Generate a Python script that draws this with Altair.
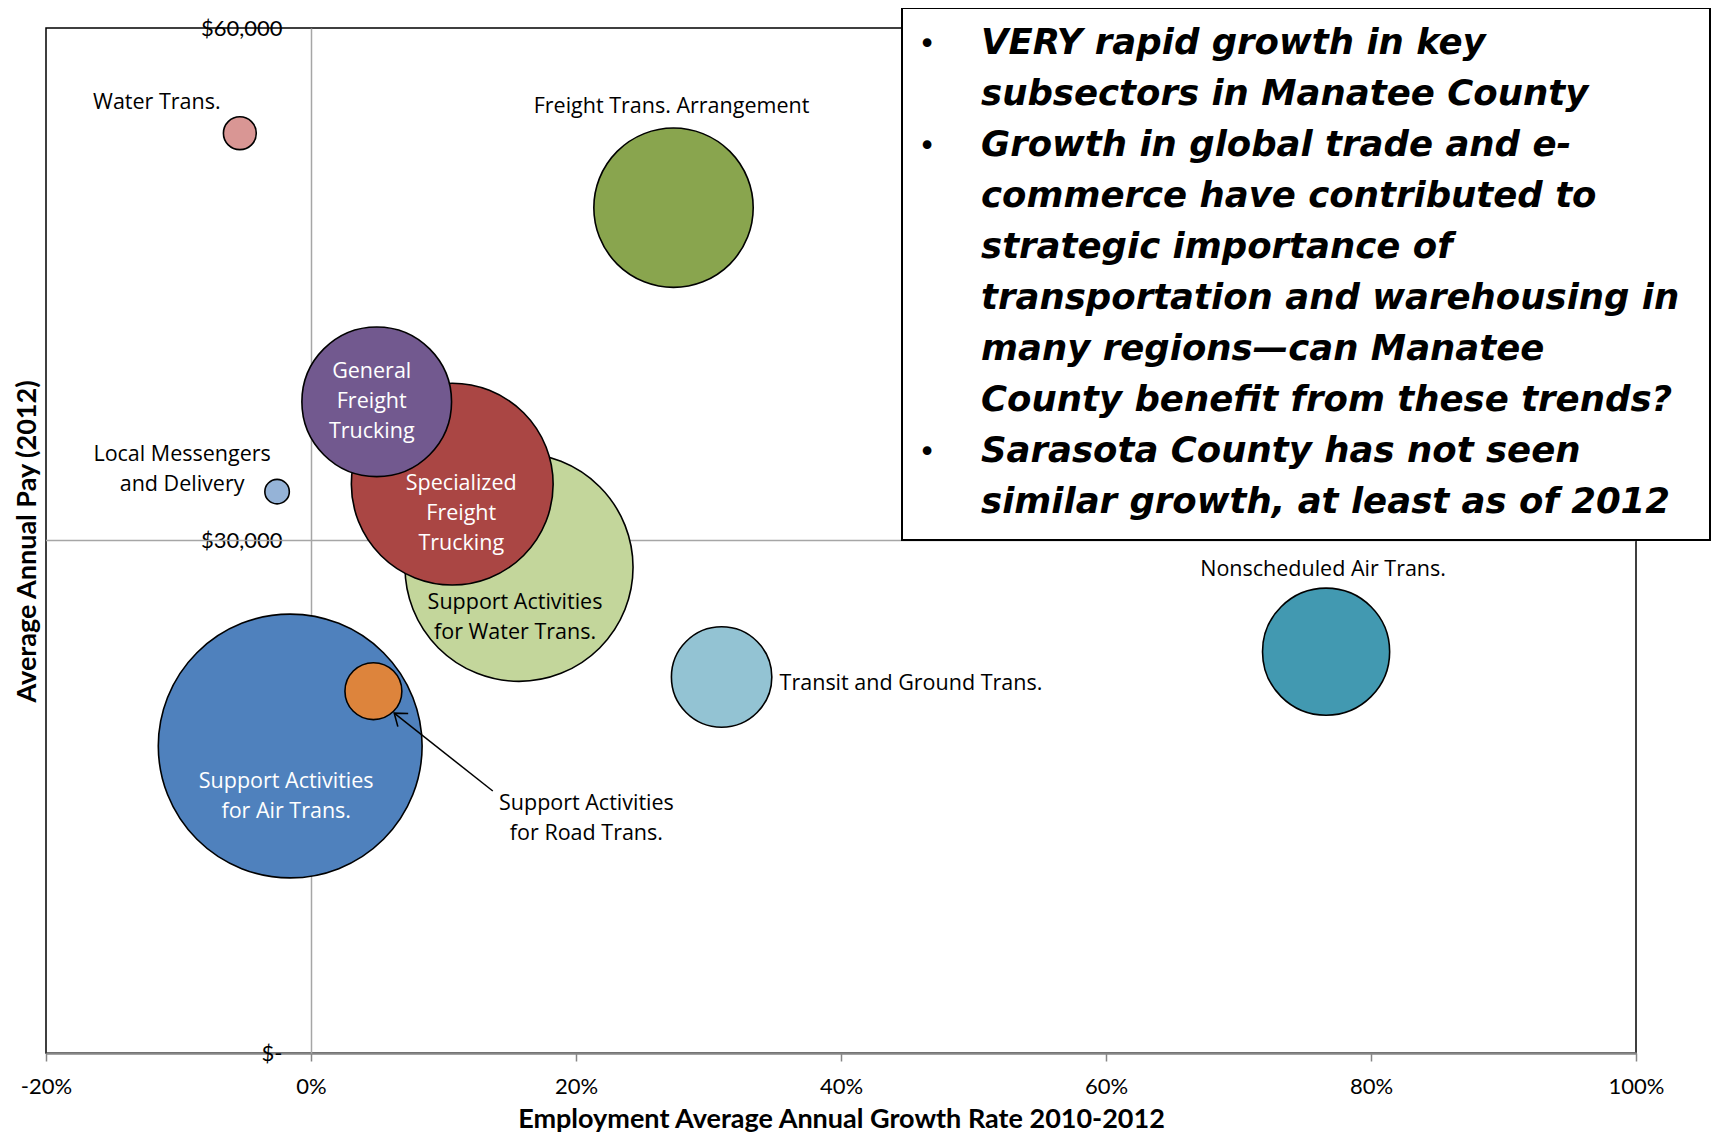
import altair as alt
import pandas as pd

# ---- data ----
industries = [
    "Support Activities for Air Trans.",
    "Support Activities for Water Trans.",
    "Specialized Freight Trucking",
    "Freight Trans. Arrangement",
    "General Freight Trucking",
    "Nonscheduled Air Trans.",
    "Transit and Ground Trans.",
    "Support Activities for Road Trans.",
    "Water Trans.",
    "Local Messengers and Delivery",
]
growth = [-0.0157, 0.157, 0.1066, 0.2736, 0.0496, 0.7661, 0.3099, 0.0471, -0.0537, -0.0256]
pay = [17970, 28430, 33300, 49480, 38120, 23490, 22010, 21180, 53840, 32860]
employment = [1740, 1300, 1018, 635, 560, 404, 252, 81, 27, 15]
colors = ["#4f81bd", "#c3d69b", "#aa4644", "#89a54e", "#72598f",
          "#4299b1", "#93c3d3", "#dd843c", "#d99694", "#95b3d7"]

label_texts = {
    "Support Activities for Air Trans.": "Support Activities\nfor Air Trans.",
    "Support Activities for Water Trans.": "Support Activities\nfor Water Trans.",
    "Specialized Freight Trucking": "Specialized\nFreight\nTrucking",
    "Freight Trans. Arrangement": "Freight Trans. Arrangement",
    "General Freight Trucking": "General\nFreight\nTrucking",
    "Nonscheduled Air Trans.": "Nonscheduled Air Trans.",
    "Transit and Ground Trans.": "Transit and Ground Trans.",
    "Support Activities for Road Trans.": "Support Activities\nfor Road Trans.",
    "Water Trans.": "Water Trans.",
    "Local Messengers and Delivery": "Local Messengers\nand Delivery",
}

x_ticks = [-0.2, 0.0, 0.2, 0.4, 0.6, 0.8, 1.0]
y_ticks = [0, 30000, 60000]

# annotation arrow for Support Activities for Road Trans. (data units)
arrow_from = (0.1372, 15337)
arrow_to = (0.0628, 19893)

note_paragraphs = [
    ["VERY rapid growth in key", "subsectors in Manatee County"],
    ["Growth in global trade and e-", "commerce have contributed to",
     "strategic importance of", "transportation and warehousing in",
     "many regions\u2014can Manatee", "County benefit from these trends?"],
    ["Sarasota County has not seen", "similar growth, at least as of 2012"],
]

# ---- layout / style ----
label_layout = {
    # name: (color, align, dx, dy of block centre)
    "Support Activities for Air Trans.": ("white", "center", -4, 51),
    "Support Activities for Water Trans.": ("black", "center", -4, 51),
    "Specialized Freight Trucking": ("white", "center", 9, 30),
    "Freight Trans. Arrangement": ("black", "center", -2, -101),
    "General Freight Trucking": ("white", "center", -5, 0),
    "Nonscheduled Air Trans.": ("black", "center", -3, -82),
    "Transit and Ground Trans.": ("black", "left", 58, 7),
    "Support Activities for Road Trans.": ("black", "center", 213, 128),
    "Water Trans.": ("black", "center", -83, -30),
    "Local Messengers and Delivery": ("black", "center", -95, -22),
}
LABEL_LH = 30
NOTE_LH = 51

W, H = 1590, 1025
FONT = "Lato"
LABEL_FONT = "Open Sans"

df = pd.DataFrame({
    "industry": industries,
    "growth": growth,
    "pay": pay,
    "employment": employment,
    "label": [label_texts[n] for n in industries],
})

x_enc = alt.X(
    "growth:Q",
    scale=alt.Scale(domain=[x_ticks[0], x_ticks[-1]], nice=False, zero=False),
    axis=alt.Axis(
        values=x_ticks,
        labelExpr="(datum.value < 0 ? '-' : '') + format(abs(datum.value), '.0%')",
        title="Employment Average Annual Growth Rate 2010-2012",
        titleFont=FONT, titleFontSize=27, titleFontWeight="bold", titleColor="black",
        titleY=66, titleBaseline="middle",
        labelFont=FONT, labelFontSize=22, labelColor="black", labelPadding=15,
        labelFlush=False, labelOverlap=False,
        tickSize=8, tickColor="#868686", tickWidth=1.5,
        domainColor="#868686", domainWidth=2.5, grid=False,
    ),
)
y_enc = alt.Y(
    "pay:Q",
    scale=alt.Scale(domain=[y_ticks[0], y_ticks[-1]], nice=False),
    axis=alt.Axis(
        values=y_ticks,
        labelExpr="datum.value == 0 ? '$-' : '$' + format(datum.value, ',')",
        offset=-265, ticks=False, tickSize=0, labelPadding=29,
        labelFlush=False, labelOverlap=False,
        labelFont=FONT, labelFontSize=22, labelColor="black",
        domainColor="#a6a6a6", domainWidth=1.5, grid=False,
        title="Average Annual Pay (2012)",
        titleFont=FONT, titleFontSize=27, titleFontWeight="bold", titleColor="black",
        titleX=-284, titleY=513, titleAngle=270, titleAlign="center", titleBaseline="middle",
    ),
)

base = alt.Chart(df)

hline = alt.Chart(pd.DataFrame({"pay": [30000]})).mark_rule(
    color="#a6a6a6", strokeWidth=1.5
).encode(y=y_enc)

bubbles = base.mark_circle(stroke="black", strokeWidth=1.6, opacity=1).encode(
    x=x_enc,
    y=y_enc,
    color=alt.Color("industry:N", scale=alt.Scale(domain=industries, range=colors), legend=None),
    size=alt.Size("employment:Q",
                  scale=alt.Scale(domain=[0, max(employment)], range=[0, 40 * max(employment)]),
                  legend=None),
)

arrow_df = pd.DataFrame({
    "growth": [arrow_from[0]], "pay": [arrow_from[1]],
    "growth2": [arrow_to[0]], "pay2": [arrow_to[1]],
})
arrow_line = alt.Chart(arrow_df).mark_rule(color="black", strokeWidth=1.5).encode(
    x=x_enc, y=y_enc, x2="growth2:Q", y2="pay2:Q"
)
arrow_head = alt.Chart(pd.DataFrame({"growth": [arrow_to[0]], "pay": [arrow_to[1]]})).mark_point(
    shape="M -1 -0.75 L 0 0 L -1 0.75", filled=False, stroke="black", strokeWidth=1.6,
    size=500, angle=218, opacity=1,
).encode(x=x_enc, y=y_enc)

label_layers = []
for name in industries:
    color, align, dx, dy = label_layout[name]
    n_lines = label_texts[name].count("\n") + 1
    label_layers.append(
        base.transform_filter(alt.datum.industry == name).mark_text(
            font=LABEL_FONT, fontSize=21.5, color=color, align=align, baseline="middle",
            dx=dx, dy=dy - (n_lines - 1) * LABEL_LH / 2, lineBreak="\n", lineHeight=LABEL_LH,
        ).encode(x=x_enc, y=y_enc, text="label:N")
    )

# text box
one = pd.DataFrame({"k": [0]})
box = alt.Chart(one).mark_rect(fill="white", stroke="black", strokeWidth=2).encode(
    x=alt.value(856), x2=alt.value(1664), y=alt.value(-20), y2=alt.value(512)
)
note_text = "\n".join(line for para in note_paragraphs for line in para)
note = alt.Chart(one).mark_text(
    font="DejaVu Sans", fontSize=35.5, fontStyle="italic", fontWeight="bold", color="black",
    align="left", baseline="top", lineBreak="\n", lineHeight=NOTE_LH,
).encode(x=alt.value(935), y=alt.value(-2), text=alt.value(note_text))

bullet_layers = []
line_idx = 0
for para in note_paragraphs:
    bullet_layers.append(
        alt.Chart(one).mark_text(
            font="DejaVu Sans", fontSize=30, color="black", align="center", baseline="top",
        ).encode(x=alt.value(881), y=alt.value(2 + line_idx * NOTE_LH), text=alt.value("\u2022"))
    )
    line_idx += len(para)

chart = alt.layer(
    hline, bubbles, arrow_line, arrow_head, *label_layers, box, note, *bullet_layers
).properties(
    width=W, height=H,
    autosize=alt.AutoSizeParams(type="none"),
    padding={"left": 38, "top": 20, "right": 75, "bottom": 82},
).configure_view(stroke="black", strokeWidth=1.5)

chart.save("out.html", embed_options={"renderer": "svg", "actions": False})
